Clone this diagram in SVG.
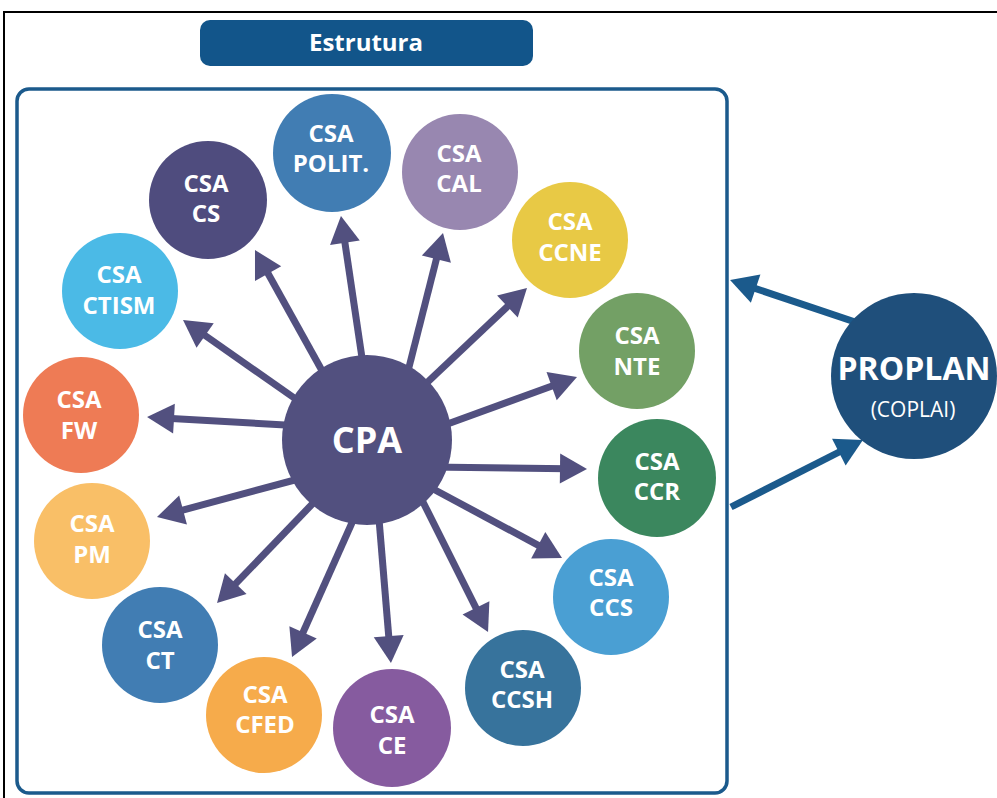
<svg xmlns="http://www.w3.org/2000/svg" width="997" height="798" viewBox="0 0 997 798">
<style>
.lbl{font-family:"Open Sans","Liberation Sans",sans-serif;font-weight:bold;fill:#fff;text-anchor:middle}
.reg{font-weight:normal}
.csa{font-size:24px}
.arr{stroke:#52507f;stroke-width:7;fill:none;marker-end:url(#ah)}
.arrb{stroke:#1b5a8c;stroke-width:7;fill:none;marker-end:url(#ahb)}
</style>
<defs>
<marker id="ah" markerUnits="userSpaceOnUse" viewBox="-1 -16 30 32" markerWidth="30" markerHeight="32" refX="7" refY="0" orient="auto" overflow="visible">
<path d="M0,-15 L27,0 L0,15 Z" fill="#52507f"/>
</marker>
<marker id="ahb" markerUnits="userSpaceOnUse" viewBox="-1 -16 30 32" markerWidth="30" markerHeight="32" refX="7" refY="0" orient="auto" overflow="visible">
<path d="M0,-15 L27,0 L0,15 Z" fill="#1b5a8c"/>
</marker>
</defs>
<rect x="0" y="0" width="997" height="798" fill="#fff"/>
<rect x="4" y="12" width="1000" height="800" fill="none" stroke="#000" stroke-width="2"/>
<g id="header">
<rect x="200" y="20" width="333" height="46" rx="10" fill="#12558a"/>
<text class="lbl" x="366" y="51" font-size="24">Estrutura</text>
</g>
<g id="frame">
<rect x="17" y="89" width="710" height="704" rx="12" fill="none" stroke="#1b5a8c" stroke-width="3.5"/>
</g>
<g id="connectors">
<line class="arr" x1="330" y1="385" x2="264.7" y2="267.5"/>
<line class="arr" x1="365" y1="378" x2="343.9" y2="235.8"/>
<line class="arr" x1="405" y1="383" x2="438.1" y2="252.4"/>
<line class="arr" x1="415" y1="394" x2="512.5" y2="301.7"/>
<line class="arr" x1="431" y1="430" x2="558.2" y2="383.8"/>
<line class="arr" x1="429" y1="467" x2="567" y2="468.7"/>
<line class="arr" x1="422" y1="483" x2="544.4" y2="548.6"/>
<line class="arr" x1="418" y1="492" x2="479.1" y2="614.1"/>
<line class="arr" x1="378" y1="507" x2="389.3" y2="643.1"/>
<line class="arr" x1="359" y1="507" x2="300.2" y2="638.7"/>
<line class="arr" x1="320" y1="496" x2="230.9" y2="588.6"/>
<line class="arr" x1="306" y1="477" x2="176.3" y2="511.8"/>
<line class="arr" x1="303" y1="426" x2="167" y2="418.2"/>
<line class="arr" x1="310" y1="409" x2="199.4" y2="331.5"/>
<line class="arrb" x1="870" y1="327" x2="749" y2="286.4"/>
<line class="arrb" x1="731" y1="507" x2="845.1" y2="449"/>
</g>
<g id="cpa">
<circle cx="367" cy="440" r="85" fill="#52507f"/>
<text class="lbl" x="367" y="453" font-size="36">CPA</text>
</g>
<g id="proplan">
<circle cx="914" cy="376" r="83" fill="#1f4f7b"/>
<text class="lbl" x="914" y="380" font-size="32">PROPLAN</text>
<text class="lbl reg" x="913" y="417" font-size="21">(COPLAI)</text>
</g>
<g id="csa-polit">
<circle cx="332" cy="153" r="59" fill="#417db3"/>
<text class="lbl csa" x="331" y="142">CSA</text>
<text class="lbl csa" x="331" y="172">POLIT.</text>
</g>
<g id="csa-cal">
<circle cx="460" cy="172" r="58" fill="#9887b0"/>
<text class="lbl csa" x="459" y="162">CSA</text>
<text class="lbl csa" x="459" y="192">CAL</text>
</g>
<g id="csa-cs">
<circle cx="208" cy="200" r="59" fill="#4f4c7e"/>
<text class="lbl csa" x="206" y="192">CSA</text>
<text class="lbl csa" x="206" y="222">CS</text>
</g>
<g id="csa-ccne">
<circle cx="570" cy="240" r="58" fill="#e8c945"/>
<text class="lbl csa" x="570" y="230">CSA</text>
<text class="lbl csa" x="570" y="261">CCNE</text>
</g>
<g id="csa-ctism">
<circle cx="120" cy="291" r="58" fill="#4bbae6"/>
<text class="lbl csa" x="119" y="283">CSA</text>
<text class="lbl csa" x="119" y="314">CTISM</text>
</g>
<g id="csa-nte">
<circle cx="637" cy="351" r="58" fill="#73a065"/>
<text class="lbl csa" x="637" y="344">CSA</text>
<text class="lbl csa" x="637" y="375">NTE</text>
</g>
<g id="csa-fw">
<circle cx="81" cy="415" r="58" fill="#ee7b55"/>
<text class="lbl csa" x="79" y="408">CSA</text>
<text class="lbl csa" x="79" y="439">FW</text>
</g>
<g id="csa-ccr">
<circle cx="657" cy="478" r="59" fill="#3b875e"/>
<text class="lbl csa" x="657" y="470">CSA</text>
<text class="lbl csa" x="657" y="500">CCR</text>
</g>
<g id="csa-pm">
<circle cx="92" cy="541" r="58" fill="#f9bf67"/>
<text class="lbl csa" x="92" y="532">CSA</text>
<text class="lbl csa" x="92" y="563">PM</text>
</g>
<g id="csa-ccs">
<circle cx="611" cy="597" r="58" fill="#4a9fd3"/>
<text class="lbl csa" x="611" y="586">CSA</text>
<text class="lbl csa" x="611" y="616">CCS</text>
</g>
<g id="csa-ct">
<circle cx="160" cy="645" r="58" fill="#417db3"/>
<text class="lbl csa" x="160" y="638">CSA</text>
<text class="lbl csa" x="160" y="669">CT</text>
</g>
<g id="csa-ccsh">
<circle cx="523" cy="688" r="58" fill="#37739c"/>
<text class="lbl csa" x="522" y="678">CSA</text>
<text class="lbl csa" x="522" y="708">CCSH</text>
</g>
<g id="csa-cfed">
<circle cx="264" cy="715" r="58" fill="#f6ab4b"/>
<text class="lbl csa" x="265" y="703">CSA</text>
<text class="lbl csa" x="265" y="733">CFED</text>
</g>
<g id="csa-ce">
<circle cx="392" cy="728" r="59" fill="#865b9f"/>
<text class="lbl csa" x="392" y="723">CSA</text>
<text class="lbl csa" x="392" y="754">CE</text>
</g>
</svg>
